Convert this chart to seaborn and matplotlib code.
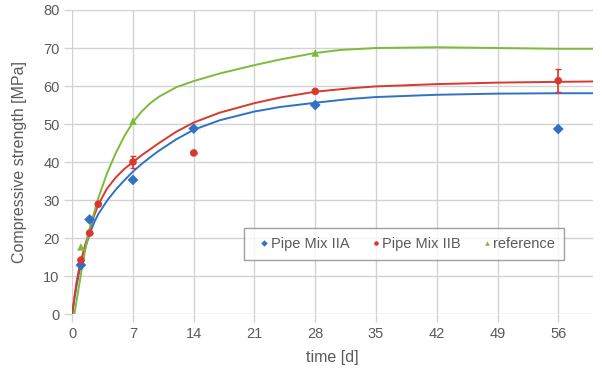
"""Compressive strength development of pipe mixes vs reference."""

import matplotlib

matplotlib.use("Agg")
import matplotlib.pyplot as plt
import pandas as pd
import seaborn as sns

# measured points
days_a = [1, 2, 7, 14, 28, 56]
strength_a = [12.9, 24.9, 35.3, 48.8, 55.0, 48.7]

days_b = [1, 2, 3, 7, 14, 28, 56]
strength_b = [14.2, 21.3, 28.9, 40.0, 42.4, 58.6, 61.4]
err_b = [0, 0, 0, 1.5, 0, 0, 3.0]

days_ref = [1, 7, 28]
strength_ref = [17.7, 50.8, 68.7]

# fitted curves
fit_days = [0, 0.25, 0.5, 0.75, 1, 1.5, 2, 2.5, 3, 4, 5, 6, 7, 8, 9, 10, 12, 14,
            17, 21, 24, 28, 32, 35, 42, 49, 56, 60]
fit_a = [0, 4, 7.5, 10.5, 13, 17.5, 21, 24, 26.3, 29.8, 32.7, 35.2, 37.5, 39.5,
         41.3, 43, 46, 48.5, 51, 53.3, 54.5, 55.6, 56.6, 57.1, 57.7, 58, 58.1, 58.1]
fit_b = [0, 4.5, 8.5, 11.5, 14, 18.3, 22, 25.8, 28.8, 33, 35.9, 38.2, 40, 41.8,
         43.4, 45, 48, 50.4, 53, 55.5, 57, 58.5, 59.4, 59.9, 60.5, 60.9, 61.1, 61.2]

fit_days_ref = [0.25, 0.5, 0.75, 1, 1.5, 2, 2.5, 3, 4, 5, 6, 7, 8, 9, 10, 12, 14,
                17, 21, 24, 28, 31, 35, 42, 49, 56, 60]
fit_ref = [0, 3.5, 7, 10.5, 17, 22.5, 26.5, 30.5, 37, 42.3, 46.8, 50.5, 53.3, 55.5,
           57.2, 59.7, 61.3, 63.3, 65.5, 67, 68.7, 69.5, 70, 70.2, 70, 69.8, 69.8]

BLUE = "#2f72c4"
RED = "#d9382e"
GREEN = "#7dbb3a"
TEXT = "#5a5a5a"
GRID = "#d2d2d2"


def main() -> None:
    sns.set_theme(style="whitegrid")
    plt.rcParams["font.family"] = ["Liberation Sans", "DejaVu Sans"]
    fig = plt.figure(figsize=(6.02, 3.70), dpi=100)
    ax = fig.add_axes([0.12, 0.151, 0.865, 0.822])

    sns.lineplot(x=fit_days, y=fit_a, color=BLUE, linewidth=1.4, ax=ax)
    sns.lineplot(x=fit_days, y=fit_b, color=RED, linewidth=1.4, ax=ax)
    sns.lineplot(x=fit_days_ref, y=fit_ref, color=GREEN, linewidth=1.4, ax=ax)

    ax.errorbar(days_b, strength_b, yerr=err_b, fmt="none", ecolor=RED,
                elinewidth=1.2, capsize=2.5, zorder=3)

    points = pd.concat(
        [
            pd.DataFrame({"day": days_a, "strength": strength_a, "series": "Pipe Mix IIA"}),
            pd.DataFrame({"day": days_b, "strength": strength_b, "series": "Pipe Mix IIB"}),
            pd.DataFrame({"day": days_ref, "strength": strength_ref, "series": "reference"}),
        ],
        ignore_index=True,
    )
    sns.scatterplot(
        data=points,
        x="day",
        y="strength",
        hue="series",
        style="series",
        palette={"Pipe Mix IIA": BLUE, "Pipe Mix IIB": RED, "reference": GREEN},
        markers={"Pipe Mix IIA": "D", "Pipe Mix IIB": "o", "reference": "^"},
        s=30,
        linewidth=0,
        zorder=4,
        ax=ax,
    )

    ax.set_xlim(0, 60)
    ax.set_ylim(0, 80)
    ax.set_xticks(range(0, 57, 7))
    ax.set_yticks(range(0, 81, 10))
    ax.grid(True, color=GRID, linewidth=1.0)
    for spine in ax.spines.values():
        spine.set_visible(False)
    ax.tick_params(axis="both", colors=GRID, labelcolor=TEXT, labelsize=10.5,
                   length=6, width=1.0, pad=3, left=True, bottom=True)
    ax.set_xlabel("time [d]", color=TEXT, fontsize=11.5, labelpad=7)
    ax.set_ylabel("Compressive strength [MPa]", color=TEXT, fontsize=11.5, labelpad=12)

    handles, labels = ax.get_legend_handles_labels()
    leg = ax.legend(
        handles[-3:],
        labels[-3:],
        loc="center",
        bbox_to_anchor=(0.637, 0.23),
        ncol=3,
        frameon=True,
        fancybox=False,
        fontsize=10.5,
        handlelength=1.6,
        handletextpad=-0.36,
        columnspacing=1.0,
        borderpad=0.62,
        markerscale=0.6,
    )
    leg.get_frame().set_edgecolor("#888888")
    leg.get_frame().set_linewidth(1.0)
    for text in leg.get_texts():
        text.set_color(TEXT)

    fig.savefig("out.png", dpi=100)
    plt.close(fig)


if __name__ == "__main__":
    main()
